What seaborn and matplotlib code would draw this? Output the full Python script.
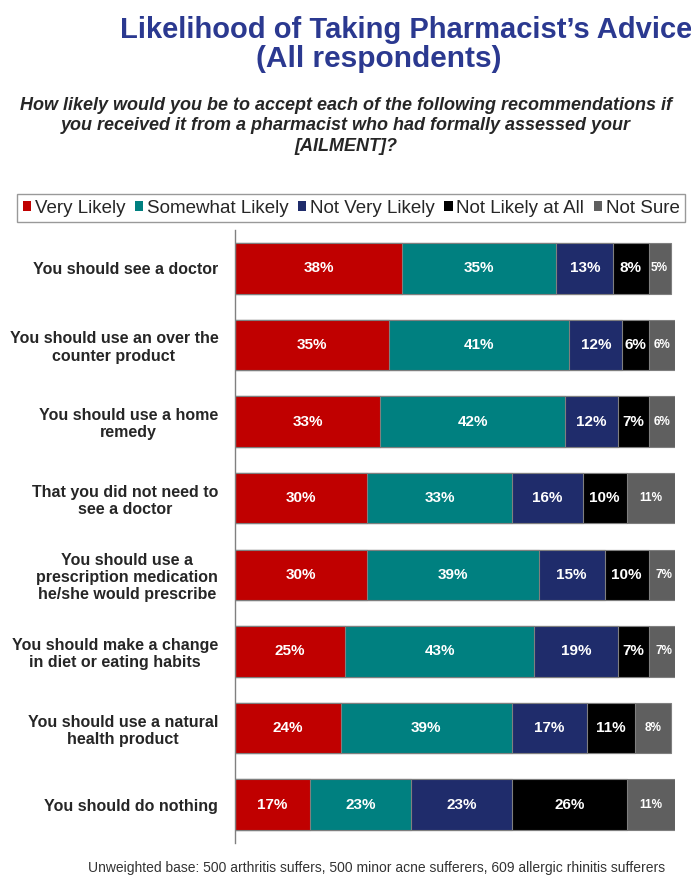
import numpy as np
import pandas as pd
import seaborn as sns
import matplotlib.pyplot as plt
from matplotlib.patches import Patch

# data
statements = [
    "You should see a doctor",
    "You should use an over the\ncounter product",
    "You should use a home\nremedy",
    "That you did not need to\nsee a doctor",
    "You should use a\nprescription medication\nhe/she would prescribe",
    "You should make a change\nin diet or eating habits",
    "You should use a natural\nhealth product",
    "You should do nothing",
]
levels = ["Very Likely", "Somewhat Likely", "Not Very Likely", "Not Likely at All", "Not Sure"]
very_likely = [38, 35, 33, 30, 30, 25, 24, 17]
somewhat_likely = [35, 41, 42, 33, 39, 43, 39, 23]
not_very_likely = [13, 12, 12, 16, 15, 19, 17, 23]
not_likely_at_all = [8, 6, 7, 10, 10, 7, 11, 26]
not_sure = [5, 6, 6, 11, 7, 7, 8, 11]
colors = ["#C00000", "#008080", "#1F2C6B", "#000000", "#5F5F5F"]

df = pd.DataFrame(
    {
        "statement": statements,
        "Very Likely": very_likely,
        "Somewhat Likely": somewhat_likely,
        "Not Very Likely": not_very_likely,
        "Not Likely at All": not_likely_at_all,
        "Not Sure": not_sure,
    }
)
cum = df[levels].cumsum(axis=1)

sns.set_theme(style="white")
plt.rcParams["font.family"] = ["Liberation Sans", "DejaVu Sans"]

fig = plt.figure(figsize=(6.91, 8.77), dpi=100)
ax = fig.add_axes([235 / 691, 1 - 843 / 877, 440 / 691, 613 / 877])

# stacked bars: draw cumulative totals from the right-most level backwards
for lev, col in reversed(list(zip(levels, colors))):
    sns.barplot(
        x=cum[lev], y=df["statement"], color=col, width=0.66, saturation=1,
        edgecolor="#7F7F7F", linewidth=0.8, ax=ax, orient="h",
    )

# segment labels
for i in range(len(df)):
    left = 0
    for j, lev in enumerate(levels):
        v = df.loc[i, lev]
        ax.text(
            left + v / 2, i, f"{v}%", ha="center", va="center",
            color="white", fontweight="bold",
            fontsize=8.5 if lev == "Not Sure" else 11,
        )
        left += v

ax.set_xlim(0, 100)
ax.set_ylim(7.5, -0.5)
ax.set_xlabel("")
ax.set_ylabel("")
ax.set_xticks([])
ax.tick_params(axis="y", length=0, pad=12)
for lab in ax.get_yticklabels():
    lab.set_fontweight("bold")
    lab.set_fontsize(11.5)
    lab.set_multialignment("center")
for s in ["top", "right", "bottom"]:
    ax.spines[s].set_visible(False)
ax.spines["left"].set_color("#808080")
ax.spines["left"].set_linewidth(1)

# legend
handles = [Patch(facecolor=c, edgecolor="none") for c in colors]
fig.legend(
    handles, levels, loc="upper left", bbox_to_anchor=(17 / 691, 1 - 194 / 877),
    ncol=5, frameon=True, fancybox=False, edgecolor="#808080", fontsize=13.5,
    handlelength=0.45, handleheight=0.45, handletextpad=0.2, columnspacing=0.5,
    borderpad=0.3, borderaxespad=0,
)

# titles
fig.text(0.588, 1 - 30 / 877, "Likelihood of Taking Pharmacist\u2019s Advice",
         ha="center", va="center", fontsize=21, fontweight="bold", color="#2B3990")
fig.text(0.548, 1 - 59 / 877, "(All respondents)",
         ha="center", va="center", fontsize=21.5, fontweight="bold", color="#2B3990")
fig.text(0.5, 1 - 126 / 877,
         "How likely would you be to accept each of the following recommendations if\n"
         "you received it from a pharmacist who had formally assessed your\n[AILMENT]?",
         ha="center", va="center", fontsize=13, fontweight="bold", style="italic",
         linespacing=1.3)
fig.text(88 / 691, 1 - 868 / 877,
         "Unweighted base: 500 arthritis suffers, 500 minor acne sufferers, 609 allergic rhinitis sufferers",
         ha="left", va="center", fontsize=10, color="#333333")

fig.savefig("out.png", dpi=100)
